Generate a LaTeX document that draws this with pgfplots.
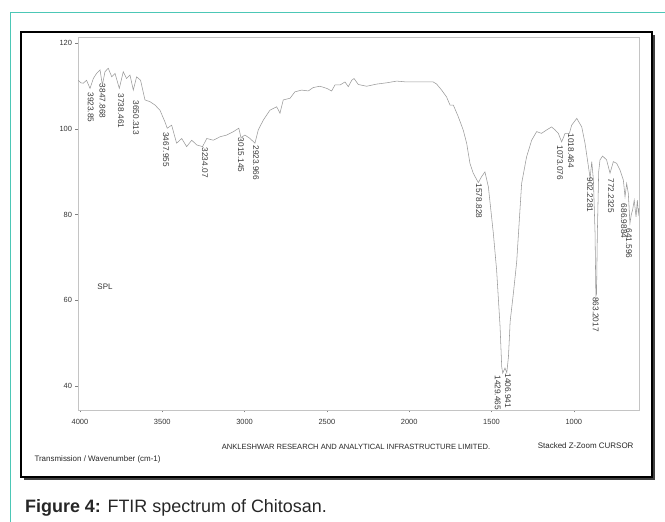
\documentclass[border=0pt]{standalone}
\usepackage{pgfplots}
\pgfplotsset{compat=1.18}
\usepackage{fontspec}
\setmainfont{Liberation Sans}

\definecolor{spec}{HTML}{9A9A9A}
\definecolor{boxgray}{HTML}{C4C4C4}
\definecolor{pklab}{HTML}{3A3A3A}
\definecolor{tealframe}{HTML}{4CC7B6}

% FTIR spectrum of chitosan: wavenumber (cm-1), transmission
\pgfplotstableread{
w v
4010 111.4
3995 110.8
3980 110.7
3960 111.4
3939 109.5
3919 111.8
3899 113.0
3878 113.8
3864 110.3
3848 113.4
3828 114.2
3807 112.2
3787 113.0
3761 109.5
3737 113.4
3717 111.8
3696 112.6
3676 109.1
3656 112.2
3632 111.4
3605 106.8
3575 106.4
3544 105.6
3514 104.4
3484 101.7
3470 100.2
3443 100.9
3413 96.7
3382 97.8
3352 95.9
3321 97.4
3291 96.3
3255 95.9
3230 97.8
3190 97.4
3149 98.2
3109 98.6
3068 99.4
3035 100.2
3022 98.0
2998 98.6
2967 97.8
2937 96.7
2917 99.8
2886 102.1
2846 104.4
2805 105.2
2785 103.7
2765 106.8
2724 107.2
2694 108.7
2653 109.1
2613 108.9
2583 109.7
2542 110.0
2501 109.5
2471 108.9
2451 110.3
2420 110.3
2390 111.0
2370 109.9
2349 111.4
2335 111.8
2309 110.4
2258 110.0
2198 110.5
2137 110.8
2076 111.2
2016 111.0
1955 111.0
1894 111.0
1854 111.0
1833 110.5
1803 109.1
1773 107.5
1752 105.6
1732 105.6
1702 102.9
1672 99.8
1651 96.7
1631 92.0
1611 89.7
1580 87.5
1560 88.9
1540 90.0
1519 86.5
1489 75.7
1469 67.1
1448 53.9
1438 44.5
1432 43.0
1418 44.2
1407 43.1
1397 46.9
1390 52.3
1387 55.0
1367 61.7
1347 69.0
1317 87.3
1287 93.5
1256 97.4
1226 99.4
1196 99.0
1165 99.8
1135 100.5
1114 99.8
1094 99.0
1074 97.0
1053 99.0
1027 99.0
1013 100.9
982 102.5
952 100.5
932 96.7
911 91.2
901 88.5
891 92.4
881 88.1
871 75.7
866 61.0
862 61.5
857 75.7
849 90.0
841 92.8
825 93.7
801 92.8
780 89.7
760 92.4
740 92.0
719 90.4
699 88.1
689 84.2
679 87.3
669 85.0
659 78.0
651 80.0
643 81.1
633 83.4
622 79.5
614 83.4
608 80.3
604 81.5
}\spectrum

\begin{document}
\begin{tikzpicture}[
  pk/.style={rotate=-90,anchor=west,inner sep=0.5bp,text=pklab,
    font=\fontsize{8.3}{9}\selectfont}]
  \path[use as bounding box] (0bp,0bp) rectangle (665bp,522bp);

  % outer page frame
  \draw[tealframe,line width=1bp] (10bp,0bp) -- (10bp,509bp) -- (665bp,509bp);

  % chart frame with shadow
  \fill[black!75] (24bp,42bp) rectangle (655bp,45bp);
  \fill[black!75] (652bp,42bp) rectangle (655bp,487bp);
  \draw[black,line width=1.1bp] (21bp,45bp) rectangle (652bp,490bp);

  \begin{axis}[
    at={(78bp,112bp)}, anchor=south west,
    scale only axis,
    width=561bp, height=373bp,
    x dir=reverse,
    xmin=604, xmax=4012,
    ymin=34.4, ymax=121.5,
    xtick={1000,1500,2000,2500,3000,3500,4000},
    ytick={40,60,80,100,120},
    tick pos=left,
    tick align=outside,
    major tick length=2.5bp,
    axis line style={boxgray,line width=0.6bp},
    tick style={gray,line width=0.5bp},
    ticklabel style={font=\fontsize{7.5}{9}\selectfont,text=black!80},
    /pgf/number format/assume math mode=true,
    /pgf/number format/1000 sep={},
    xticklabel style={yshift=-3bp},
    clip=false,
    ]
    \addplot[spec,line width=0.55bp] table[x=w,y=v] {\spectrum};

    \node[pk] at (axis cs:3935,108.7) {3923.85};
    \node[pk] at (axis cs:3863,110.7) {3847.868};
    \node[pk] at (axis cs:3751,108.4) {3738.461};
    \node[pk] at (axis cs:3660,106.8) {3650.313};
    \node[pk] at (axis cs:3478,99.4) {3467.955};
    \node[pk] at (axis cs:3241,95.8) {3234.07};
    \node[pk] at (axis cs:3022,98.1) {3015.145};
    \node[pk] at (axis cs:2931,96.3) {2923.966};
    \node[pk] at (axis cs:1576,87.4) {1578.828};
    \node[pk] at (axis cs:1462,42.6) {1429.465};
    \node[pk] at (axis cs:1400,43.1) {1406.941};
    \node[pk] at (axis cs:1084,96.3) {1073.076};
    \node[pk] at (axis cs:1017,99.1) {1018.464};
    \node[pk] at (axis cs:902,88.8) {902.2281};
    \node[pk] at (axis cs:867,60.9) {863.2017};
    \node[pk] at (axis cs:774,88.6) {772.2325};
    \node[pk] at (axis cs:695,82.7) {686.9884};
    \node[pk] at (axis cs:665,76.9) {641.596};

    \node[font=\fontsize{8}{9}\selectfont,text=black!80] at (axis cs:3848,63.1) {SPL};
  \end{axis}

  \node[font=\fontsize{7.6}{9}\selectfont,text=black!85] at (356bp,75bp)
    {ANKLESHWAR RESEARCH AND ANALYTICAL INFRASTRUCTURE LIMITED.};
  \node[font=\fontsize{8}{9}\selectfont,text=black!85,anchor=east] at (637bp,76bp)
    {Stacked Z-Zoom CURSOR};
  \node[font=\fontsize{8}{9}\selectfont,text=black!85,anchor=west] at (31bp,63bp)
    {Transmission / Wavenumber (cm-1)};

  % figure caption
  \node[font=\fontsize{18}{20}\selectfont,text=black!85,anchor=west,inner sep=0bp] at (25bp,14bp)
    {\textbf{Figure 4:} FTIR spectrum of Chitosan.};
\end{tikzpicture}
\end{document}
